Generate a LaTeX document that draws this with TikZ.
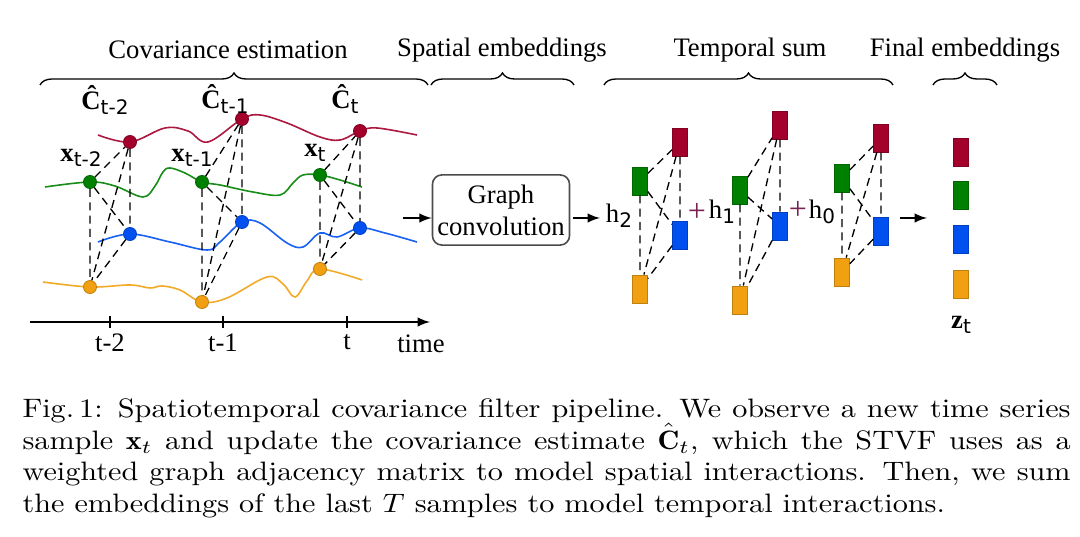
\documentclass[tikz,border=0pt]{standalone}
\usepackage{fontspec}
\newfontfamily\labelfont{Liberation Serif}
\newfontfamily\idxfont{DejaVu Sans}
\usepackage{tikz}
\usetikzlibrary{arrows,decorations.pathreplacing,positioning}
\definecolor{sred}{HTML}{A3002B}
\definecolor{sgreen}{HTML}{008000}
\definecolor{sblue}{HTML}{0050F0}
\definecolor{sorange}{HTML}{F0A010}
\definecolor{plusc}{HTML}{7A2050}
\newcommand{\idx}[1]{\raisebox{-1.8pt}{\idxfont\fontsize{7.5}{8}\selectfont #1}}
\tikzset{
	>=latex,
	lbl/.style = {font=\labelfont\fontsize{10}{12}\selectfont, inner sep=0pt},
	dot/.style = {
			circle,
			fill      = #1,
			draw      = #1!80!black,
			line width = 0.3pt,
			inner sep = 0pt,
			minimum size = 4.9pt,
		},
	emb/.style = {
			rectangle,
			fill      = #1,
			draw      = #1!80!black,
			line width = 0.3pt,
			inner sep = 0pt,
			minimum width = 5.6pt,
			minimum height = 10.5pt,
		},
	link/.style = {densely dashed, line width=0.5pt},
	series/.style = {draw=#1!90!white, line width=0.6pt},
	brc/.style = {decorate, decoration={brace, amplitude=4.5pt}, line width=0.5pt},
}

\begin{document}
\begin{tikzpicture}
	[x=0.375pt, y=-0.375pt,
		% STYLES
		convbox/.style={rectangle, draw=black!70, line width=0.6pt, rounded corners=3.5pt,
				minimum width=51.4pt, minimum height=26.3pt, align=center, inner sep=0pt,
				font=\labelfont\fontsize{10}{12}\selectfont},
		plus/.style={lbl, text=plusc, font=\labelfont\fontsize{12}{12}\selectfont}]
	\useasboundingbox (0,0) rectangle (1080,537);

	% Braces and their titles
	\draw[brc] (40,85) -- (428,85);
	\draw[brc] (431,85) -- (574,85);
	\draw[brc] (604,85) -- (893,85);
	\draw[brc] (933,85) -- (997,85);
	\node[lbl] (tcov) at (228,50) {Covariance estimation};
	\node[lbl] (tspa) at (502,50) {Spatial embeddings};
	\node[lbl] (ttem) at (750,50) {Temporal sum};
	\node[lbl] (tfin) at (965,50) {Final embeddings};

	% Time series
	\draw[series=sred] plot[smooth, tension=0.6] coordinates {(98,135) (130,142) (165,128) (188,131) (208,142) (242,119) (260,115) (287,123) (320,137) (340,140) (360,131) (377,128) (417,135)};
	\draw[series=sgreen] plot[smooth, tension=0.6] coordinates {(45,187) (90,182) (115,186) (143,197) (155,186) (163,172) (170,168) (185,173) (202,182) (220,185) (253,192) (280,195) (293,183) (303,175) (320,175) (340,180) (362,187)};
	\draw[series=sblue] plot[smooth, tension=0.6] coordinates {(98,242) (130,234) (170,242) (207,250) (220,242) (242,222) (260,223) (287,243) (303,247) (320,233) (337,237) (360,228) (385,233) (417,242)};
	\draw[series=sorange] plot[smooth, tension=0.6] coordinates {(43,282) (90,287) (130,285) (150,288) (162,286) (180,290) (202,302) (227,298) (267,277) (283,284) (295,297) (307,281) (320,269) (362,280)};

	% Samples
	\node[dot=sred] (r1) at (130,142) {};
	\node[dot=sgreen] (g1) at (90,182) {};
	\node[dot=sblue] (b1) at (130,234) {};
	\node[dot=sorange] (o1) at (90,287) {};
	\node[dot=sred] (r2) at (242,119) {};
	\node[dot=sgreen] (g2) at (202,182) {};
	\node[dot=sblue] (b2) at (242,222) {};
	\node[dot=sorange] (o2) at (202,302) {};
	\node[dot=sred] (r3) at (360,131) {};
	\node[dot=sgreen] (g3) at (320,175) {};
	\node[dot=sblue] (b3) at (360,228) {};
	\node[dot=sorange] (o3) at (320,269) {};

	\foreach \i in {1,2,3}
	\draw[link] (g\i) -- (r\i) (g\i) -- (b\i) (g\i) -- (o\i)
	(r\i) -- (b\i) (r\i) -- (o\i) (b\i) -- (o\i);

	\node[lbl] (c1) at (105,100) {\textbf{Ĉ}\idx{t-2}};
	\node[lbl] (c2) at (225,99) {\textbf{Ĉ}\idx{t-1}};
	\node[lbl] (c3) at (345,99) {\textbf{Ĉ}\idx{t}};
	\node[lbl] (x1) at (81,158) {\textbf{x}\idx{t-2}};
	\node[lbl] (x2) at (192,158) {\textbf{x}\idx{t-1}};
	\node[lbl] (x3) at (315,153) {\textbf{x}\idx{t}};

	% Time axis
	\draw[->, line width=0.6pt] (30,322) -- (430,322);
	\foreach \x/\t in {110/t-2, 223/t-1, 347/t}
	\draw[line width=0.6pt] (\x,316) -- (\x,328) node[lbl, pos=1, below=2pt] {\t};
	\node[lbl] (time) at (421,344) {time};

	% Graph convolution
	\coordinate (gin) at (403,218);
	\node[convbox] (gc) at (501,210) {Graph\\convolution};
	\node[lbl] (h2) at (619,216) {h\idx{2}};
	\draw[->, line width=0.6pt] (gin) -- (gin -| gc.west);
	\draw[->, line width=0.6pt] (gc.east |- gin) ++(3,0) -- (600,218);

	% Temporal sum
	\node[emb=sgreen] (hg2) at (640,181) {};
	\node[emb=sred] (hr2) at (680,142) {};
	\node[emb=sblue] (hb2) at (680,235) {};
	\node[emb=sorange] (ho2) at (640,289) {};
	\node[emb=sgreen] (hg1) at (740,190) {};
	\node[emb=sred] (hr1) at (780,125) {};
	\node[emb=sblue] (hb1) at (780,226) {};
	\node[emb=sorange] (ho1) at (740,300) {};
	\node[emb=sgreen] (hg0) at (842,178) {};
	\node[emb=sred] (hr0) at (881,138) {};
	\node[emb=sblue] (hb0) at (881,231) {};
	\node[emb=sorange] (ho0) at (842,272) {};

	\foreach \i in {0,1,2}
	\draw[link] (hg\i) -- (hr\i) (hg\i) -- (hb\i) (hg\i) -- (ho\i)
	(hr\i) -- (hb\i) (hr\i) -- (ho\i) (hb\i) -- (ho\i);

	\node[plus] (p1) at (697,212) {+};
	\node[lbl] (h1) at (722,212) {h\idx{1}};
	\node[plus] (p0) at (798,210) {+};
	\node[lbl] (h0) at (822,212) {h\idx{0}};

	% Final embeddings
	\coordinate (zout) at (900,218);
	\coordinate (zin) at (927,218);
	\draw[->, line width=0.6pt] (zout) -- (zin);
	\node[emb=sred] (zr) at (961,152) {};
	\node[emb=sgreen] (zg) at (961,195) {};
	\node[emb=sblue] (zb) at (961,239) {};
	\node[emb=sorange] (zo) at (961,284) {};
	\node[lbl] (zt) at (961,325) {\textbf{z}\idx{t}};

	% Caption
	\node[anchor=north west, inner sep=0pt] (cap) at (22,398) {\scalebox{1.133}[1]{\parbox[t]{346.9pt}{\fontsize{10}{11.9}\selectfont
					Fig.\,1: Spatiotemporal covariance filter pipeline. We observe a new time series\linebreak
					sample $\mathbf{x}_t$ and update the covariance estimate $\smash{\hat{\mathbf{C}}}_t$, which the STVF uses as a\linebreak
					weighted graph adjacency matrix to model spatial interactions. Then, we sum\linebreak
					the embeddings of the last $T$ samples to model temporal interactions.}}};
\end{tikzpicture}
\end{document}
